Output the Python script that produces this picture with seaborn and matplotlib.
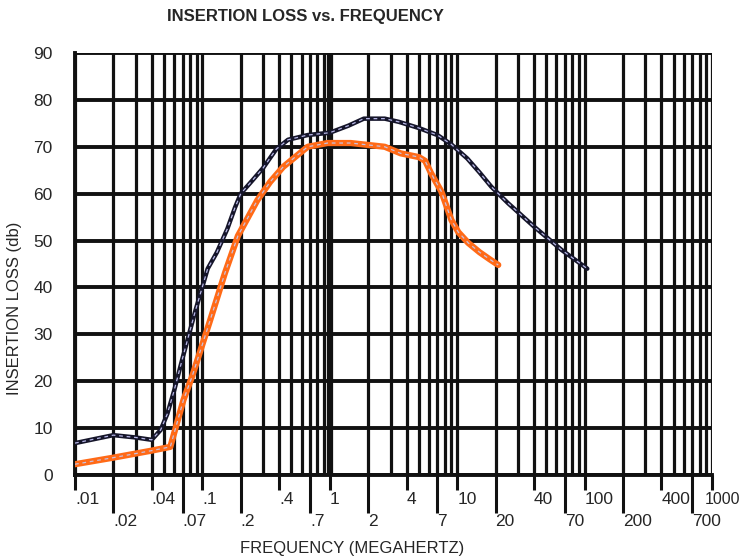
import matplotlib
matplotlib.use('Agg')
from matplotlib import pyplot as plt
from matplotlib.transforms import ScaledTranslation
import numpy as np
import seaborn as sns

# values (frequency in MHz, loss in dB)
black_freq = [0.01, 0.02, 0.03, 0.04, 0.047, 0.053, 0.06, 0.07, 0.088, 0.11, 0.13, 0.157, 0.18,
              0.2, 0.25, 0.3, 0.38, 0.47, 0.67, 1.0, 1.4, 1.85, 2.7, 3.5, 5.0, 7.0, 9.0, 12,
              15, 18.5, 25, 40, 66, 105]
black_loss = [6.8, 8.5, 8.0, 7.5, 9.6, 13, 18, 25, 35, 44, 47.5, 52.5, 57,
              60, 63, 65.5, 69.5, 71.5, 72.5, 73, 74.5, 76, 76, 75.3, 74, 72.5, 70.5, 67.5,
              64.5, 61.5, 58, 53, 48, 44]

orange_freq = [0.01, 0.02, 0.04, 0.056, 0.071, 0.083, 0.115, 0.15, 0.19, 0.27, 0.34, 0.43,
               0.67, 0.96, 1.46, 2.7, 3.6, 5.0, 5.6, 6.2, 6.8, 7.5, 8.2, 9.0, 10.2, 12.2,
               15, 18, 21]
orange_loss = [2.3, 3.7, 5.2, 6.0, 16, 21, 33, 43, 51, 58.6, 62.5, 65.7,
               70, 70.8, 70.8, 70, 68.6, 67.8, 67, 64.5, 62.5, 60.5, 57.5, 54.4, 51.8, 49.5,
               47.5, 46, 44.8]

top_ticks = [0.01, 0.04, 0.1, 0.4, 1, 4, 10, 40, 100, 400, 1000]
top_labels = ['.01', '.04', '.1', '.4', '1', '4', '10', '40', '100', '400', '1000']
bottom_ticks = [0.02, 0.07, 0.2, 0.7, 2, 7, 20, 70, 200, 700]
bottom_labels = ['.02', '.07', '.2', '.7', '2', '7', '20', '70', '200', '700']
y_ticks = list(range(0, 100, 10))

sns.set_style('white')
plt.rcParams['font.family'] = ['Liberation Sans', 'DejaVu Sans']

fig = plt.figure(figsize=(7.42, 5.59), dpi=100)
ax = fig.add_axes([75 / 742, 1 - 475 / 559, 637 / 742, 422 / 559])
ax.set_xscale('log')
ax.set_xlim(0.01, 1000)
ax.set_ylim(0, 90)

# log paper grid
grid_x = np.outer(10.0 ** np.arange(-2, 3), np.arange(1, 10)).ravel()
ax.vlines(grid_x, 0, 90, color='#111111', lw=2.3, zorder=1)
ax.vlines([1000], 0, 90, color='#111111', lw=2.3, zorder=1)
ax.vlines([1], 0, 90, color='#111111', lw=4.5, zorder=1)
ax.hlines(y_ticks, 0.01, 1000, color='#111111', lw=2.8, zorder=1)

sns.lineplot(x=black_freq, y=black_loss, ax=ax, color='#15152a', lw=3.2, sort=False, zorder=3)
sns.lineplot(x=black_freq, y=black_loss, ax=ax, color='#b8b8e8', lw=0.9, ls=(0, (3, 3)), sort=False, zorder=4)
sns.lineplot(x=orange_freq, y=orange_loss, ax=ax, color='#ff6a17', lw=4.5, sort=False, zorder=3)
sns.lineplot(x=orange_freq, y=orange_loss, ax=ax, color='#c8c0e0', lw=0.9, ls=(0, (3, 3)), sort=False, zorder=4)

ax.set_xticks(top_ticks, top_labels)
ax.set_xticks(bottom_ticks, bottom_labels, minor=True)
ax.tick_params(axis='x', which='major', bottom=True, length=11, width=2.2, pad=1,
               labelsize=12.5, color='#111111')
ax.tick_params(axis='x', which='minor', bottom=True, length=27, width=2.2, pad=1,
               labelsize=12.5, color='#111111')
ax.set_yticks(y_ticks)
ax.tick_params(axis='y', length=0, pad=16, labelsize=12.5)

xlabs = ax.get_xticklabels()
for lab in xlabs + ax.get_xticklabels(minor=True):
    lab.set_ha('left')
# last label sits against the right edge of the figure
xlabs[-1].set_ha('right')
xlabs[-1].set_fontsize(11.5)
xlabs[-1].set_transform(xlabs[-1].get_transform() + ScaledTranslation(0.285, 0, fig.dpi_scale_trans))

for s in ['top', 'right']:
    ax.spines[s].set_visible(False)
for s in ['left', 'bottom']:
    ax.spines[s].set_color('#111111')
    ax.spines[s].set_linewidth(2.8)

fig.text(305 / 742, 1 - 17 / 559, 'INSERTION LOSS vs. FREQUENCY', ha='center', va='center',
         fontsize=12, fontweight='bold')
fig.text(15 / 742, 1 - 308 / 559, 'INSERTION LOSS (db)', rotation=90, ha='center', va='center',
         fontsize=12)
fig.text(352 / 742, 1 - 548 / 559, 'FREQUENCY (MEGAHERTZ)', ha='center', va='center', fontsize=12)

fig.savefig('out.png', dpi=100)
